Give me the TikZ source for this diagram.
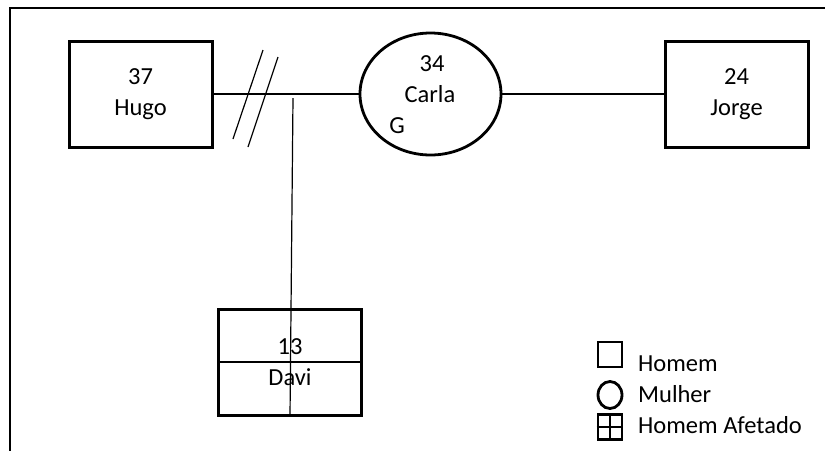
\documentclass[tikz,border=0pt]{standalone}
\usepackage{fontspec}
\setmainfont{Carlito}
\usetikzlibrary{shapes.geometric}
\begin{document}
\begin{tikzpicture}[x=1pt,y=-1pt,
  person/.style={draw,line width=3pt,rectangle,minimum width=143pt,minimum height=106pt,inner sep=0pt,align=center,font=\fontsize{24.5}{31}\selectfont},
  txt/.style={inner sep=0pt,font=\fontsize{24.5}{31}\selectfont},
  conn/.style={line width=1.2pt},
  frameline/.style={line width=2.2pt},
  legsq/.style={draw,line width=2.8pt,rectangle,minimum width=24pt,minimum height=25pt,inner sep=0pt},
  legci/.style={draw,line width=2.8pt,ellipse,minimum width=24pt,minimum height=27pt,inner sep=0pt}]
\useasboundingbox (0,0) rectangle (825,451);
% frame
\coordinate (ftr) at (825,8);
\coordinate (ftl) at (10,8);
\coordinate (fbl) at (10,451);
\draw[frameline] (ftr) -- (ftl) -- (fbl);
% persons
\node[person] (hugo) at (140.5,94) {37\\Hugo};
\node[person] (jorge) at (736.5,94) {24\\Jorge};
\node[draw,line width=2.8pt,ellipse,minimum width=141pt,minimum height=122pt,inner sep=0pt] (carla) at (430.5,94) {};
\node[txt,anchor=base] (c34) at (432,71) {34};
\node[txt,anchor=base] (cname) at (430,102) {Carla};
\node[txt,anchor=base] (cg) at (397,133) {G};
\node[person] (davi) at (290,362) {13\\Davi};
% connectors
\draw[conn] (hugo.east) -- (carla.west);
\draw[conn] (carla.east) -- (jorge.west);
\coordinate (drop) at (293,98);
\draw[conn] (drop) -- (davi.south);
\draw[conn] (davi.west) -- (davi.east);
% divorce marks
\coordinate (s1a) at (233,139);
\coordinate (s1b) at (263,50);
\coordinate (s2a) at (248,147);
\coordinate (s2b) at (278,57);
\draw[conn] (s1a) -- (s1b);
\draw[conn] (s2a) -- (s2b);
% legend
\node[legsq] (lsq) at (610,354.5) {};
\node[txt,anchor=base west] (lhomem) at (638,371) {Homem};
\node[legci] (lci) at (610,395) {};
\node[txt,anchor=base west] (lmulher) at (638,402) {Mulher};
\node[legsq] (laf) at (610,427) {};
\draw[line width=1.5pt] (laf.north) -- (laf.south);
\draw[line width=1.5pt] (laf.west) -- (laf.east);
\node[txt,anchor=base west] (lafet) at (638,433) {Homem Afetado};
\end{tikzpicture}
\end{document}
